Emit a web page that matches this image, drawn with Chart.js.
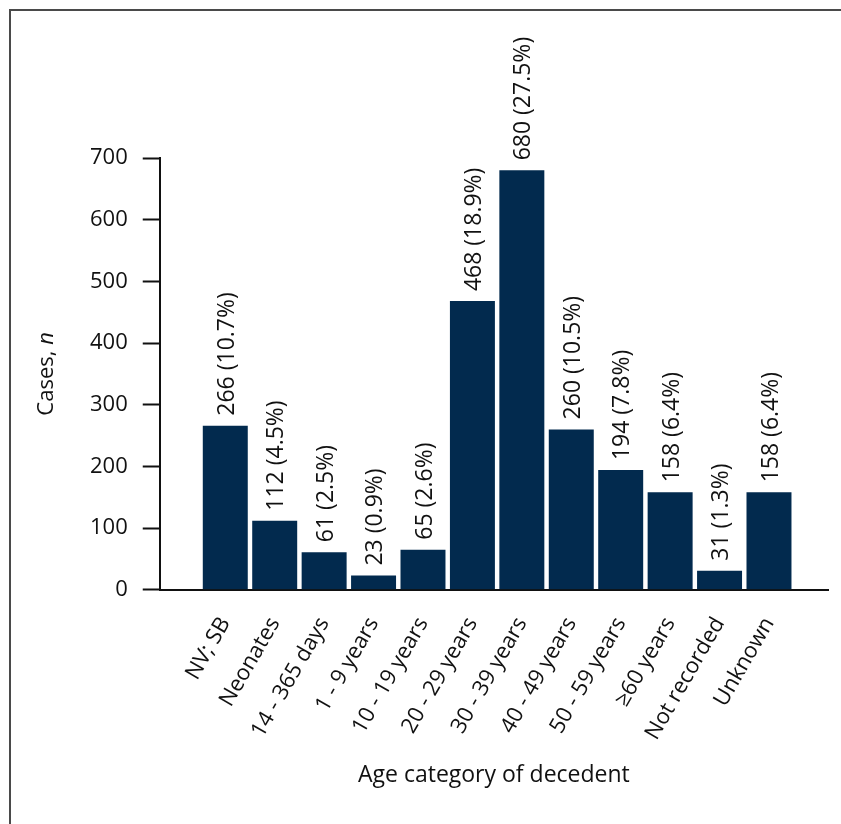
<!DOCTYPE html>
<html>
<head>
<meta charset="utf-8">
<script src="https://cdn.jsdelivr.net/npm/chart.js@4.4.1/dist/chart.umd.min.js"></script>
<style>
  html, body { margin: 0; padding: 0; background: #fff; overflow: hidden; }
  #frame { position: absolute; left: 9px; top: 9px; width: 900px; height: 900px;
           border-left: 2px solid #4a4a4a; border-top: 2px solid #4a4a4a; }
  #chart { position: absolute; left: 0; top: 0; }
</style>
</head>
<body>
<div id="frame"></div>
<canvas id="chart" width="841" height="824"></canvas>
<script>
// =================== data =======================
const ageGroups = [
    'NV; SB', 'Neonates', '14 - 365 days', '1 - 9 years', '10 - 19 years', '20 - 29 years',
    '30 - 39 years', '40 - 49 years', '50 - 59 years', '\u226560 years', 'Not recorded', 'Unknown'
];
const cases = [266, 112, 61, 23, 65, 468, 680, 260, 194, 158, 31, 158];
const percents = [10.7, 4.5, 2.5, 0.9, 2.6, 18.9, 27.5, 10.5, 7.8, 6.4, 1.3, 6.4];
const yTicks = [0, 100, 200, 300, 400, 500, 600, 700];
// =================== END DATA ===================

const FONT = "'Open Sans'";
Chart.defaults.font.family = FONT;
Chart.defaults.color = '#111';

// value labels written upwards above each bar
const barLabels = {
    id: 'barLabels',
    afterDatasetsDraw(chart) {
        const ctx = chart.ctx;
        const meta = chart.getDatasetMeta(0);
        ctx.save();
        ctx.font = '23px ' + FONT;
        ctx.fillStyle = '#111';
        ctx.textAlign = 'left';
        ctx.textBaseline = 'middle';
        meta.data.forEach((bar, i) => {
            ctx.save();
            ctx.translate(bar.x + 2, bar.y - 10);
            ctx.rotate(-Math.PI / 2);
            ctx.fillText(cases[i] + ' (' + percents[i].toFixed(1) + '%)', 0, 0);
            ctx.restore();
        });
        ctx.restore();
    }
};

// y axis title with italic n
const yTitle = {
    id: 'yTitle',
    afterDraw(chart) {
        const ctx = chart.ctx;
        const a = 'Cases, ';
        const b = 'n';
        ctx.save();
        ctx.fillStyle = '#111';
        ctx.textBaseline = 'middle';
        ctx.font = '22px ' + FONT;
        const wa = ctx.measureText(a).width;
        ctx.font = 'italic 22px ' + FONT;
        const wb = ctx.measureText(b).width;
        const cy = (chart.chartArea.top + chart.chartArea.bottom) / 2;
        ctx.translate(47, cy);
        ctx.rotate(-Math.PI / 2);
        ctx.textAlign = 'left';
        ctx.font = '22px ' + FONT;
        ctx.fillText(a, -(wa + wb) / 2, 0);
        ctx.font = 'italic 22px ' + FONT;
        ctx.fillText(b, -(wa + wb) / 2 + wa, 0);
        ctx.restore();
    }
};

function casesByAge() {
    const ctx = document.getElementById('chart');
    const myChart = new Chart(ctx, {
        type: 'bar',
        data: {
            datasets: [{
                label: 'Cases',
                data: cases.map((v, i) => ({ x: i, y: v })),
                backgroundColor: '#022a4e',
                borderWidth: 0,
                categoryPercentage: 1,
                barPercentage: 0.91
            }]
        },
        options: {
            responsive: false,
            animation: false,
            layout: {
                padding: { left: 75, right: 13, top: 158, bottom: 31 }
            },
            plugins: {
                legend: { display: false },
                tooltip: { enabled: false }
            },
            scales: {
                x: {
                    type: 'linear',
                    min: -1.326,
                    max: 12.194,
                    offset: false,
                    afterBuildTicks: function(axis) {
                        axis.ticks = ageGroups.map((_, i) => ({ value: i }));
                    },
                    grid: { display: false },
                    border: { display: true, color: '#111', width: 2 },
                    ticks: {
                        autoSkip: false,
                        minRotation: 60,
                        maxRotation: 60,
                        padding: 15,
                        font: { size: 22 },
                        callback: function(value) {
                            return ageGroups[value];
                        }
                    },
                    title: {
                        display: true,
                        text: 'Age category of decedent',
                        font: { size: 23 },
                        padding: { top: 2, bottom: 4 }
                    }
                },
                y: {
                    min: 0,
                    max: 700,
                    afterBuildTicks: function(axis) {
                        axis.ticks = yTicks.map(v => ({ value: v }));
                    },
                    grid: {
                        drawOnChartArea: false,
                        drawTicks: true,
                        tickLength: 17,
                        tickColor: '#111',
                        tickWidth: 2
                    },
                    border: { display: true, color: '#111', width: 2 },
                    ticks: {
                        padding: 15,
                        font: { size: 22 }
                    }
                }
            }
        },
        plugins: [barLabels, yTitle]
    });
    return myChart;
}

casesByAge();
</script>
</body>
</html>
